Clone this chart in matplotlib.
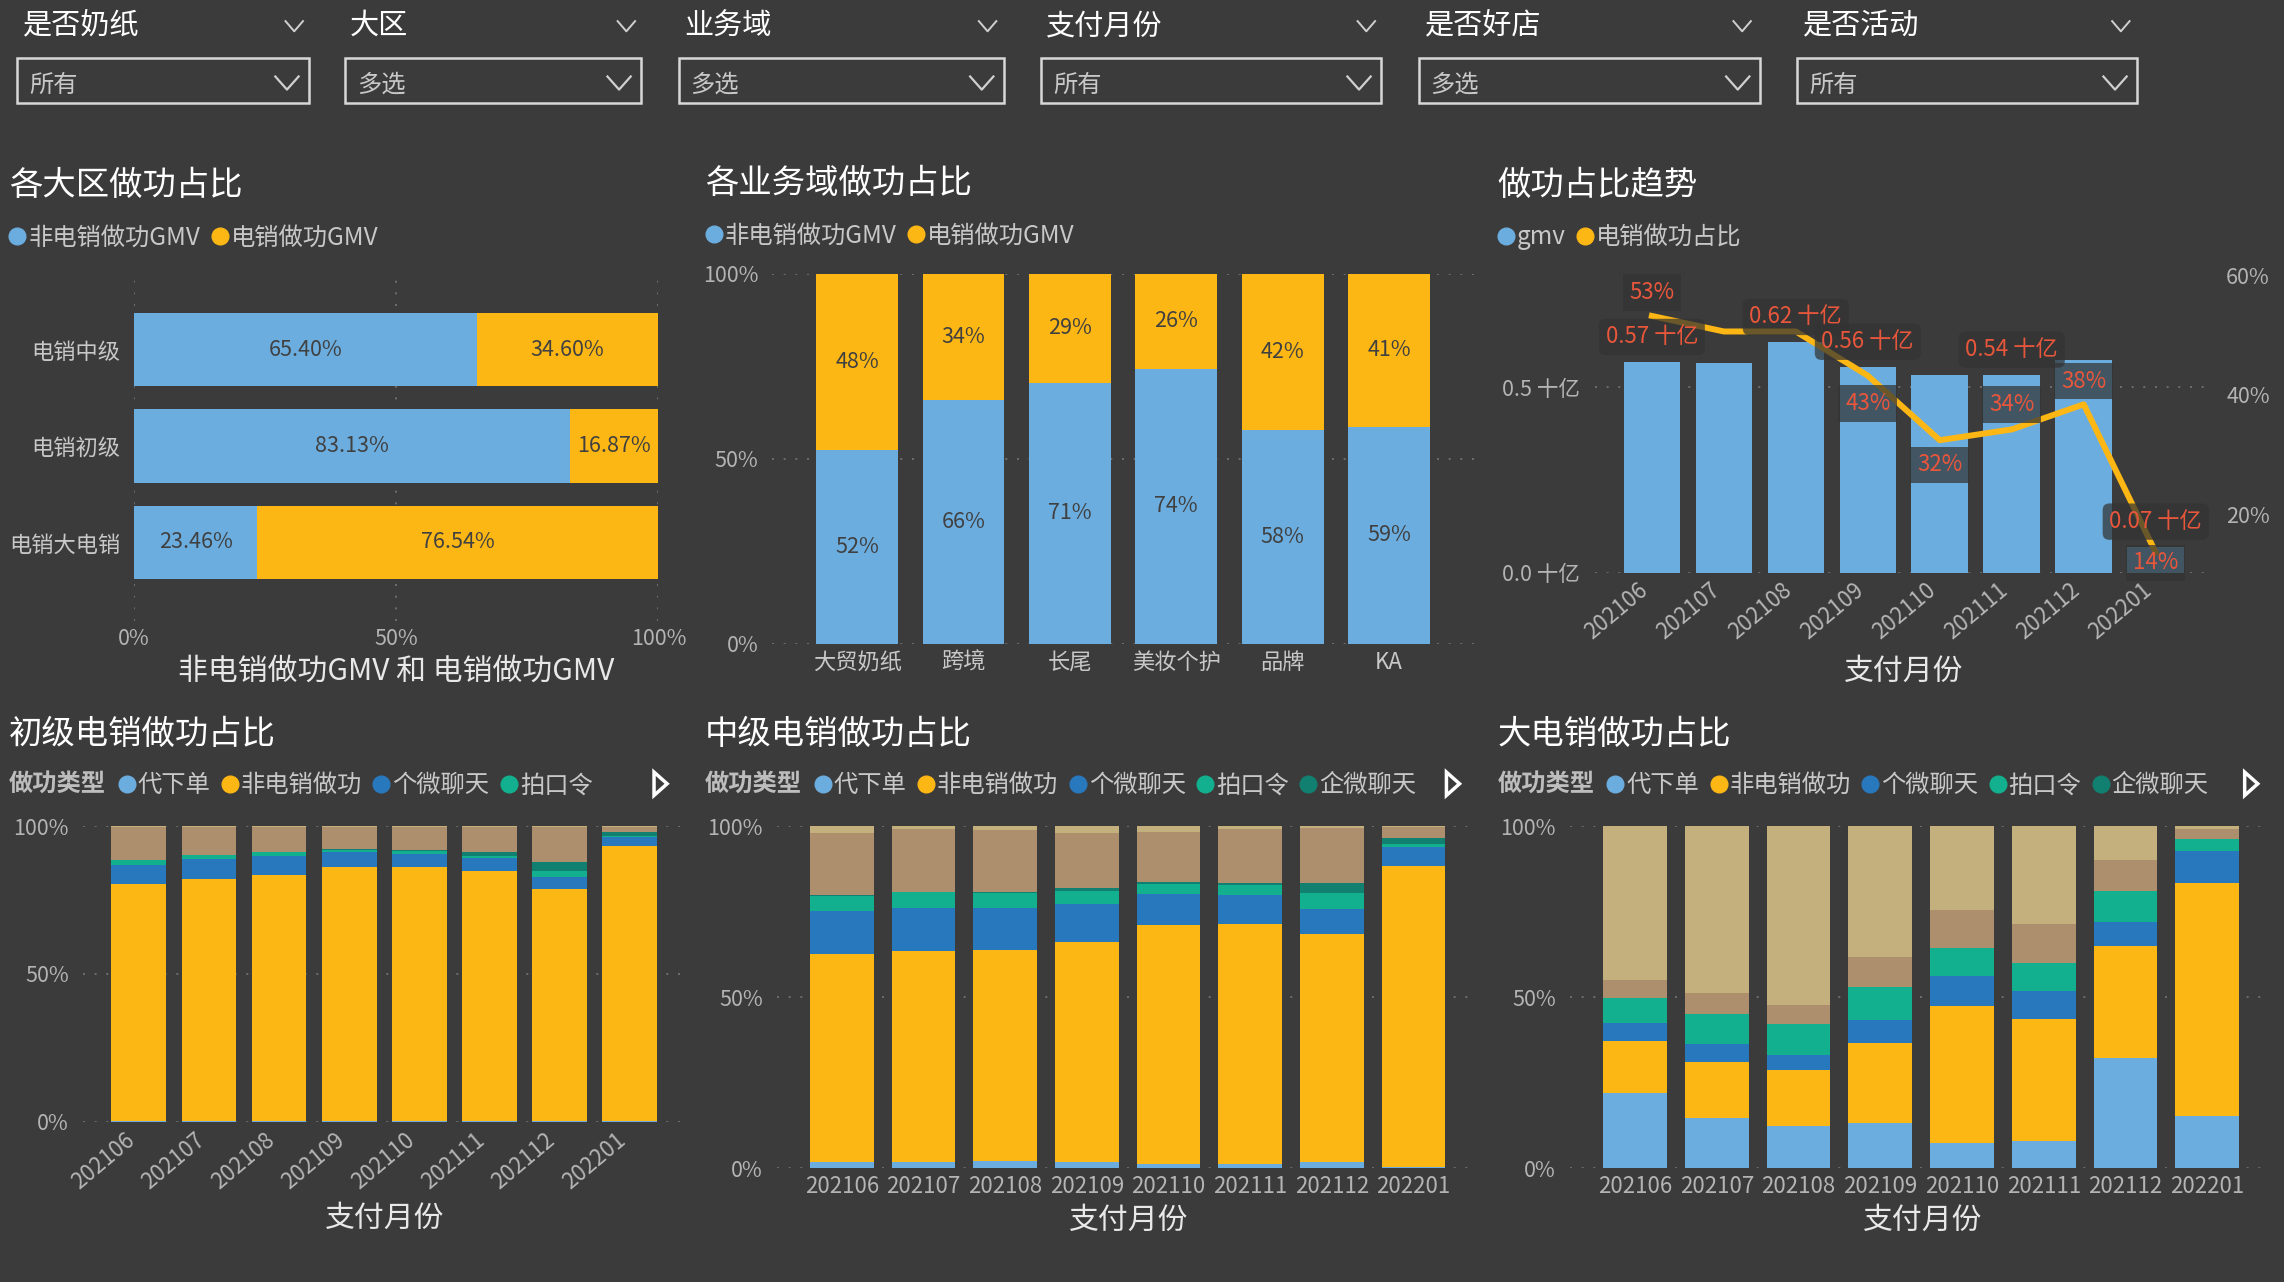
import numpy as np
import matplotlib.pyplot as plt
from matplotlib.lines import Line2D
from matplotlib.patches import Rectangle, Polygon

plt.rcParams['font.family'] = ['Noto Sans CJK SC', 'DejaVu Sans']

# colours
bg = '#3B3B3B'
col_light = '#6CADDF'
col_yellow = '#FDB714'
col_blue = '#2878BD'
col_teal = '#12B08E'
col_dteal = '#118070'
col_brown = '#AD8F6D'
col_tan = '#C4B07D'
col_tick = '#B4B4B4'
col_label = '#C8C8C8'
col_grid = '#6E6E6E'
col_red = '#E8573C'
col_dark = '#404040'

# slicers
filter_titles = ['是否奶纸', '大区', '业务域', '支付月份', '是否好店', '是否活动']
filter_values = ['所有', '多选', '多选', '所有', '多选', '所有']

# 各大区做功占比 (%)
regions = ['电销中级', '电销初级', '电销大电销']
region_non = [65.40, 83.13, 23.46]
region_tel = [34.60, 16.87, 76.54]

# 各业务域做功占比 (%)
domains = ['大贸奶纸', '跨境', '长尾', '美妆个护', '品牌', 'KA']
domain_non = [52.4, 65.9, 70.6, 74.3, 57.8, 58.6]
domain_tel = [47.6, 34.1, 29.4, 25.7, 42.2, 41.4]

# 做功占比趋势
months = ['202106', '202107', '202108', '202109', '202110', '202111', '202112', '202201']
gmv = [0.569, 0.565, 0.623, 0.556, 0.535, 0.535, 0.574, 0.07]        # 十亿
tel_share = [53.2, 50.6, 50.6, 43.2, 32.4, 34.2, 38.4, 13.6]          # %
gmv_shown = [True, False, True, True, False, True, False, True]
share_shown = [True, False, False, True, True, True, True, True]

# 做功类型 stacks (%), bottom -> top
types = ['代下单', '非电销做功', '个微聊天', '拍口令', '企微聊天', '其他A', '其他B']
type_colors = [col_light, col_yellow, col_blue, col_teal, col_dteal, col_brown, col_tan]

junior = [
    [0.3, 0.2, 0.2, 0.2, 0.2, 0.2, 0.3, 0.1],
    [80.2, 82.0, 83.1, 85.8, 86.0, 84.6, 78.4, 93.1],
    [6.4, 6.7, 6.5, 5.1, 4.2, 4.3, 4.2, 3.1],
    [1.5, 1.3, 1.3, 0.7, 1.0, 0.9, 1.8, 0.2],
    [0.0, 0.0, 0.0, 0.4, 0.4, 1.2, 3.2, 1.6],
    [11.4, 9.6, 8.7, 7.6, 8.0, 8.6, 11.9, 1.7],
    [0.2, 0.2, 0.2, 0.2, 0.2, 0.2, 0.2, 0.2],
]
middle = [
    [2.0, 2.0, 2.1, 2.0, 1.25, 1.25, 2.0, 0.4],
    [60.7, 61.5, 61.8, 64.1, 69.8, 70.1, 66.4, 87.9],
    [12.5, 12.5, 12.2, 11.1, 9.1, 8.45, 7.3, 5.6],
    [4.5, 4.6, 4.4, 3.9, 2.9, 2.9, 4.7, 0.8],
    [0.2, 0.2, 0.2, 0.9, 0.5, 0.7, 2.9, 1.9],
    [18.0, 18.4, 18.0, 16.1, 14.6, 15.8, 16.2, 3.1],
    [2.1, 0.8, 1.3, 1.9, 1.85, 0.8, 0.5, 0.3],
]
big = [
    [22.1, 14.8, 12.4, 13.2, 7.5, 8.0, 32.2, 15.3],
    [15.1, 16.3, 16.2, 23.5, 39.9, 35.7, 32.8, 68.2],
    [5.2, 5.3, 4.4, 6.5, 8.7, 8.0, 6.9, 9.1],
    [7.3, 8.8, 9.1, 9.8, 8.2, 8.3, 9.0, 3.65],
    [0.0, 0.0, 0.0, 0.0, 0.0, 0.0, 0.0, 0.0],
    [5.2, 6.1, 5.5, 8.7, 11.1, 11.5, 9.1, 2.75],
    [45.1, 48.7, 52.4, 38.3, 24.6, 28.5, 10.0, 1.0],
]

# layout helpers (reference measured on a 1568 x 880 preview)
W, H = 1568.0, 880.0
def fx(x): return x / W
def fy(y): return 1 - y / H
def box(l, t, r, b): return [fx(l), fy(b), (r - l) / W, (b - t) / H]

fig = plt.figure(figsize=(22.84, 12.82), dpi=100, facecolor=bg)


def chevron(x, y, w, h, lw=1.6, c='#D0D0D0'):
    fig.add_artist(Line2D([fx(x - w / 2), fx(x), fx(x + w / 2)],
                          [fy(y - h / 2), fy(y + h / 2), fy(y - h / 2)],
                          transform=fig.transFigure, color=c, lw=lw))


def style_ax(ax, grid_axis='y'):
    ax.set_facecolor(bg)
    for s in ax.spines.values():
        s.set_visible(False)
    ax.tick_params(length=0, colors=col_tick, labelsize=15.5)
    ax.grid(axis=grid_axis, color=col_grid, linestyle=(0, (1, 5)), linewidth=1.4)
    ax.set_axisbelow(True)


def legend_row(x, y, labels, colors, fs):
    handles = [Line2D([], [], marker='o', ls='', color=c, markersize=12) for c in colors]
    fig.legend(handles, labels, loc='center left', bbox_to_anchor=(fx(x), fy(y)),
               ncol=len(labels), frameon=False, fontsize=fs, labelcolor=col_label,
               handlelength=0.6, handletextpad=0.15, columnspacing=0.5,
               borderaxespad=0, borderpad=0)


# ---- slicers ----
title_x = [16, 240, 470, 718, 978, 1238]
chev_x = [202, 430, 678, 938, 1196, 1456]
boxes = [(12, 212), (237, 440), (466, 689), (715, 948), (974, 1208), (1234, 1467)]
for t, v, tx, cx, (l, r) in zip(filter_titles, filter_values, title_x, chev_x, boxes):
    fig.text(fx(tx), fy(18), t, color='white', fontsize=21, va='center', ha='left')
    chevron(cx, 18, 12, 7, lw=1.4)
    fig.add_artist(Rectangle((fx(l), fy(71)), (r - l) / W, 31 / H, transform=fig.transFigure,
                             fill=False, ec='#D8D8D8', lw=1.8))
    fig.text(fx(l + 8), fy(58), v, color=col_label, fontsize=17.5, va='center', ha='left')
    chevron(r - 15, 57, 16, 9, lw=1.6)

# ---- 各大区做功占比 ----
fig.text(fx(6), fy(127), '各大区做功占比', color='white', fontsize=24, va='center')
legend_row(7, 163, ['非电销做功GMV', '电销做功GMV'], [col_light, col_yellow], 17.5)
ax1 = fig.add_axes(box(92, 190, 452, 426))
style_ax(ax1, 'x')
yy = np.arange(len(regions))
ax1.barh(yy, region_non, 0.76, color=col_light)
ax1.barh(yy, region_tel, 0.76, left=region_non, color=col_yellow)
for i in range(len(regions)):
    ax1.text(region_non[i] / 2, yy[i], f'{region_non[i]:.2f}%', ha='center', va='center',
             color=col_dark, fontsize=15.5)
    ax1.text(region_non[i] + region_tel[i] / 2, yy[i], f'{region_tel[i]:.2f}%', ha='center',
             va='center', color=col_dark, fontsize=15.5)
ax1.set_xlim(0, 100)
ax1.set_ylim(2.81, -0.755)
ax1.set_xticks([0, 50, 100])
ax1.set_xticklabels(['0%', '50%', '100%'])
ax1.set_yticks(yy)
ax1.set_yticklabels(regions, color=col_label, fontsize=16)
ax1.tick_params(axis='x', pad=5)
ax1.tick_params(axis='y', pad=10)
fig.text(fx(272), fy(461), '非电销做功GMV 和 电销做功GMV', color='#E8E8E8', fontsize=21.5,
         ha='center', va='center')

# ---- 各业务域做功占比 ----
fig.text(fx(484), fy(126), '各业务域做功占比', color='white', fontsize=24, va='center')
legend_row(485, 162, ['非电销做功GMV', '电销做功GMV'], [col_light, col_yellow], 17.5)
ax2 = fig.add_axes(box(530, 188, 1012, 442))
style_ax(ax2)
xx = np.arange(len(domains))
ax2.bar(xx, domain_non, 0.77, color=col_light)
ax2.bar(xx, domain_tel, 0.77, bottom=domain_non, color=col_yellow)
for i in range(len(domains)):
    ax2.text(xx[i], domain_non[i] / 2, f'{domain_non[i]:.0f}%', ha='center', va='center',
             color=col_dark, fontsize=15.5)
    ax2.text(xx[i], domain_non[i] + domain_tel[i] / 2, f'{domain_tel[i]:.0f}%', ha='center',
             va='center', color=col_dark, fontsize=15.5)
ax2.set_xlim(-0.8, 5.8)
ax2.set_ylim(0, 100)
ax2.set_yticks([0, 50, 100])
ax2.set_yticklabels(['0%', '50%', '100%'])
ax2.set_xticks(xx)
ax2.set_xticklabels(domains, color=col_label, fontsize=16)
ax2.tick_params(axis='x', pad=5)
ax2.tick_params(axis='y', pad=10)

# ---- 做功占比趋势 ----
fig.text(fx(1028), fy(127), '做功占比趋势', color='white', fontsize=24, va='center')
legend_row(1029, 163, ['gmv', '电销做功占比'], [col_light, col_yellow], 17.5)
ax3 = fig.add_axes(box(1095, 189, 1515, 393))
style_ax(ax3)
mx = np.arange(len(months))
ax3.bar(mx, gmv, 0.786, color=col_light, zorder=2)
ax3.set_xlim(-0.79, 7.71)
ax3.set_ylim(0, 0.803)
ax3.set_yticks([0, 0.5])
ax3.set_yticklabels(['0.0 十亿', '0.5 十亿'])
ax3.set_xticks(mx)
ax3.set_xticklabels(months, rotation=40, ha='right', fontsize=16)
ax3.tick_params(axis='x', pad=4)
ax3.tick_params(axis='y', pad=11)
ax3r = ax3.twinx()
for s in ax3r.spines.values():
    s.set_visible(False)
ax3r.plot(mx, tel_share, color=col_yellow, lw=4.3, zorder=3, solid_joinstyle='round')
ax3r.set_ylim(10.24, 60)
ax3r.set_yticks([20, 40, 60])
ax3r.set_yticklabels(['20%', '40%', '60%'])
ax3r.tick_params(length=0, colors=col_tick, labelsize=15.5, pad=14)
gmv_box = dict(boxstyle='round,pad=0.3', fc='#333333', ec='none', alpha=0.72)
pct_box = dict(boxstyle='square,pad=0.3', fc='#333333', ec='none', alpha=0.72)
for i in range(len(months)):
    if gmv_shown[i]:
        xy_r = ax3r.transData.inverted().transform(ax3.transData.transform((mx[i], gmv[i])))
        ax3r.annotate(f'{gmv[i]:.2f} 十亿', xy=xy_r, xytext=(0, 18),
                      textcoords='offset points', ha='center', va='center',
                      color=col_red, fontsize=16, bbox=gmv_box, zorder=5)
share_off = [16, 0, 0, -19, -17, 17, 16, -7]
for i in range(len(months)):
    if share_shown[i]:
        ax3r.annotate(f'{tel_share[i]:.0f}%', xy=(mx[i], tel_share[i]),
                      xytext=(0, share_off[i] * 1.05), textcoords='offset points',
                      ha='center', va='center', color=col_red, fontsize=16,
                      bbox=pct_box, zorder=5, annotation_clip=False)
fig.text(fx(1307), fy(461), '支付月份', color='#E8E8E8', fontsize=21.5, ha='center', va='center')


# ---- stacked 做功类型 charts ----
def stacked(ax, data, rot):
    style_ax(ax)
    bottom = np.zeros(len(months))
    for vals, c in zip(data, type_colors):
        ax.bar(mx, vals, 0.78, bottom=bottom, color=c)
        bottom += np.array(vals)
    ax.set_ylim(0, 100)
    ax.set_xlim(-0.8, 7.76)
    ax.set_yticks([0, 50, 100])
    ax.set_yticklabels(['0%', '50%', '100%'])
    ax.set_xticks(mx)
    if rot:
        ax.set_xticklabels(months, rotation=40, ha='right', fontsize=16)
        ax.tick_params(axis='x', pad=5)
    else:
        ax.set_xticklabels(months, fontsize=16)
        ax.tick_params(axis='x', pad=5)
    ax.tick_params(axis='y', pad=10)


def type_legend(x_title, x_leg, n, x_arrow):
    fig.text(fx(x_title), fy(538), '做功类型', color='#BDBDBD', fontsize=17.5, fontweight='bold',
             va='center')
    legend_row(x_leg, 539, types[:n], type_colors[:n], 17.5)
    fig.add_artist(Polygon([[fx(x_arrow - 4), fy(530)], [fx(x_arrow + 5), fy(538)],
                            [fx(x_arrow - 4), fy(546)]], closed=True, fill=False,
                           ec='white', lw=2.5, transform=fig.transFigure))


fig.text(fx(6), fy(504), '初级电销做功占比', color='white', fontsize=24, va='center')
type_legend(6, 82, 4, 453)
ax4 = fig.add_axes(box(56.7, 567, 469, 770))
stacked(ax4, junior, True)
fig.text(fx(264), fy(836), '支付月份', color='#E8E8E8', fontsize=21.5, ha='center', va='center')

fig.text(fx(484), fy(504), '中级电销做功占比', color='white', fontsize=24, va='center')
type_legend(484, 560, 5, 997)
ax5 = fig.add_axes(box(533.2, 567, 1013, 802))
stacked(ax5, middle, False)
fig.text(fx(775), fy(838), '支付月份', color='#E8E8E8', fontsize=21.5, ha='center', va='center')

fig.text(fx(1028), fy(504), '大电销做功占比', color='white', fontsize=24, va='center')
type_legend(1028, 1104, 5, 1545)
ax6 = fig.add_axes(box(1077.6, 567, 1558, 802))
stacked(ax6, big, False)
fig.text(fx(1320), fy(838), '支付月份', color='#E8E8E8', fontsize=21.5, ha='center', va='center')

fig.savefig('out.png', dpi=100, facecolor=bg)
